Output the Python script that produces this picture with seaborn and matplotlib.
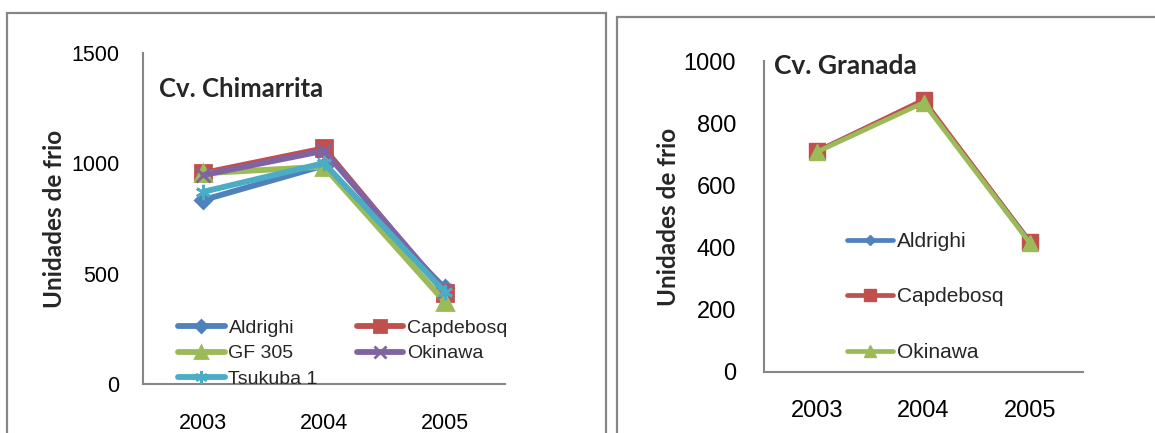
import matplotlib
matplotlib.use('Agg')
import matplotlib.pyplot as plt
from matplotlib.patches import Rectangle
import seaborn as sns

sns.set_theme(style='white')
plt.rcParams['font.family'] = ['Liberation Sans', 'DejaVu Sans']

# data
years = ['2003', '2004', '2005']

chim_names = ['Aldrighi', 'Capdebosq', 'GF 305', 'Okinawa', 'Tsukuba 1']
chim_aldrighi = [834, 990, 435]
chim_capdebosq = [956, 1068, 412]
chim_gf305 = [955, 985, 373]
chim_okinawa = [947, 1057, 423]
chim_tsukuba = [871, 1001, 418]

gran_names = ['Aldrighi', 'Capdebosq', 'Okinawa']
gran_aldrighi = [710, 870, 420]
gran_capdebosq = [710, 875, 418]
gran_okinawa = [708, 866, 415]

blue, red, green, purple, aqua = '#4F81BD', '#C0504D', '#9BBB59', '#8064A2', '#4BACC6'
grey = '#868686'
title_font = 'Lato'

fig = plt.figure(figsize=(11.55, 4.33), dpi=100)

# chart frames (Excel chart area borders)
fig.patches.append(Rectangle((7 / 1155, -0.1), 599 / 1155, 1.1 - 13 / 433,
                             transform=fig.transFigure, fill=False,
                             edgecolor=grey, lw=1.6))
fig.patches.append(Rectangle((617 / 1155, -0.1), 0.6, 1.1 - 17 / 433,
                             transform=fig.transFigure, fill=False,
                             edgecolor=grey, lw=1.6))


def style_axes(ax, ymax, step, fs, xpad, ypad):
    ax.set_xlim(-0.5, 2.5)
    ax.set_ylim(0, ymax)
    ax.set_yticks(range(0, ymax + 1, step))
    ax.tick_params(axis='both', length=0, labelsize=fs, colors='black')
    ax.tick_params(axis='x', pad=xpad)
    ax.tick_params(axis='y', pad=ypad)
    for s in ['top', 'right']:
        ax.spines[s].set_visible(False)
    for s in ['left', 'bottom']:
        ax.spines[s].set_color(grey)
        ax.spines[s].set_linewidth(1.5)
    ax.set_xlabel('')
    ax.set_ylabel('')


# left: Cv. Chimarrita
ax1 = fig.add_axes([143 / 1155, 1 - 384 / 433, 362 / 1155, 331 / 433])
chim_vals = [chim_aldrighi, chim_capdebosq, chim_gf305, chim_okinawa, chim_tsukuba]
chim_cols = [blue, red, green, purple, aqua]
chim_marks = ['D', 's', '^', 'x', (6, 2, 0)]
chim_ms = [8, 11, 11, 10, 11]
for name, vals, c, m, ms in zip(chim_names, chim_vals, chim_cols, chim_marks, chim_ms):
    sns.lineplot(x=years, y=vals, ax=ax1, color=c, marker=m, markersize=ms,
                 markeredgecolor=c, markeredgewidth=2, lw=4.2, label=name)
style_axes(ax1, 1500, 500, 15.5, 21, 17)
ax1.text(0.043, 0.89, 'Cv. Chimarrita', transform=ax1.transAxes, fontsize=18.5,
         fontweight='bold', family=title_font, va='center', ha='left')
h, l = ax1.get_legend_handles_labels()
order = [0, 2, 4, 1, 3]
ax1.legend([h[i] for i in order], [l[i] for i in order], ncol=2,
           loc='lower left', bbox_to_anchor=(0.075, -0.035), frameon=False,
           fontsize=14, handlelength=2.4, handletextpad=0.2, markerscale=0.8,
           columnspacing=2.0, labelspacing=0.4, borderaxespad=0)
fig.text(55 / 1155, 1 - 219 / 433, 'Unidades de frio', rotation=90,
         fontsize=17.5, fontweight='bold', family=title_font,
         ha='center', va='center')

# right: Cv. Granada
ax2 = fig.add_axes([764 / 1155, 1 - 372 / 433, 319 / 1155, 311 / 433])
gran_vals = [gran_aldrighi, gran_capdebosq, gran_okinawa]
gran_cols = [blue, red, green]
gran_marks = ['D', 's', '^']
gran_ms = [7, 11, 11]
for name, vals, c, m, ms in zip(gran_names, gran_vals, gran_cols, gran_marks, gran_ms):
    sns.lineplot(x=years, y=vals, ax=ax2, color=c, marker=m, markersize=ms,
                 markeredgecolor=c, markeredgewidth=1, lw=3.4, label=name)
style_axes(ax2, 1000, 200, 17, 20, 20)
ax2.text(0.03, 0.985, 'Cv. Granada', transform=ax2.transAxes, fontsize=19,
         fontweight='bold', family=title_font, va='center', ha='left')
ax2.legend(loc='upper left', bbox_to_anchor=(0.235, 0.477), frameon=False,
           fontsize=15, handlelength=2.2, handletextpad=0.2, markerscale=0.8,
           labelspacing=1.75, borderaxespad=0)
fig.text(668 / 1155, 1 - 217 / 433, 'Unidades de frio', rotation=90,
         fontsize=17.5, fontweight='bold', family=title_font,
         ha='center', va='center')

fig.savefig('out.png', dpi=100)
